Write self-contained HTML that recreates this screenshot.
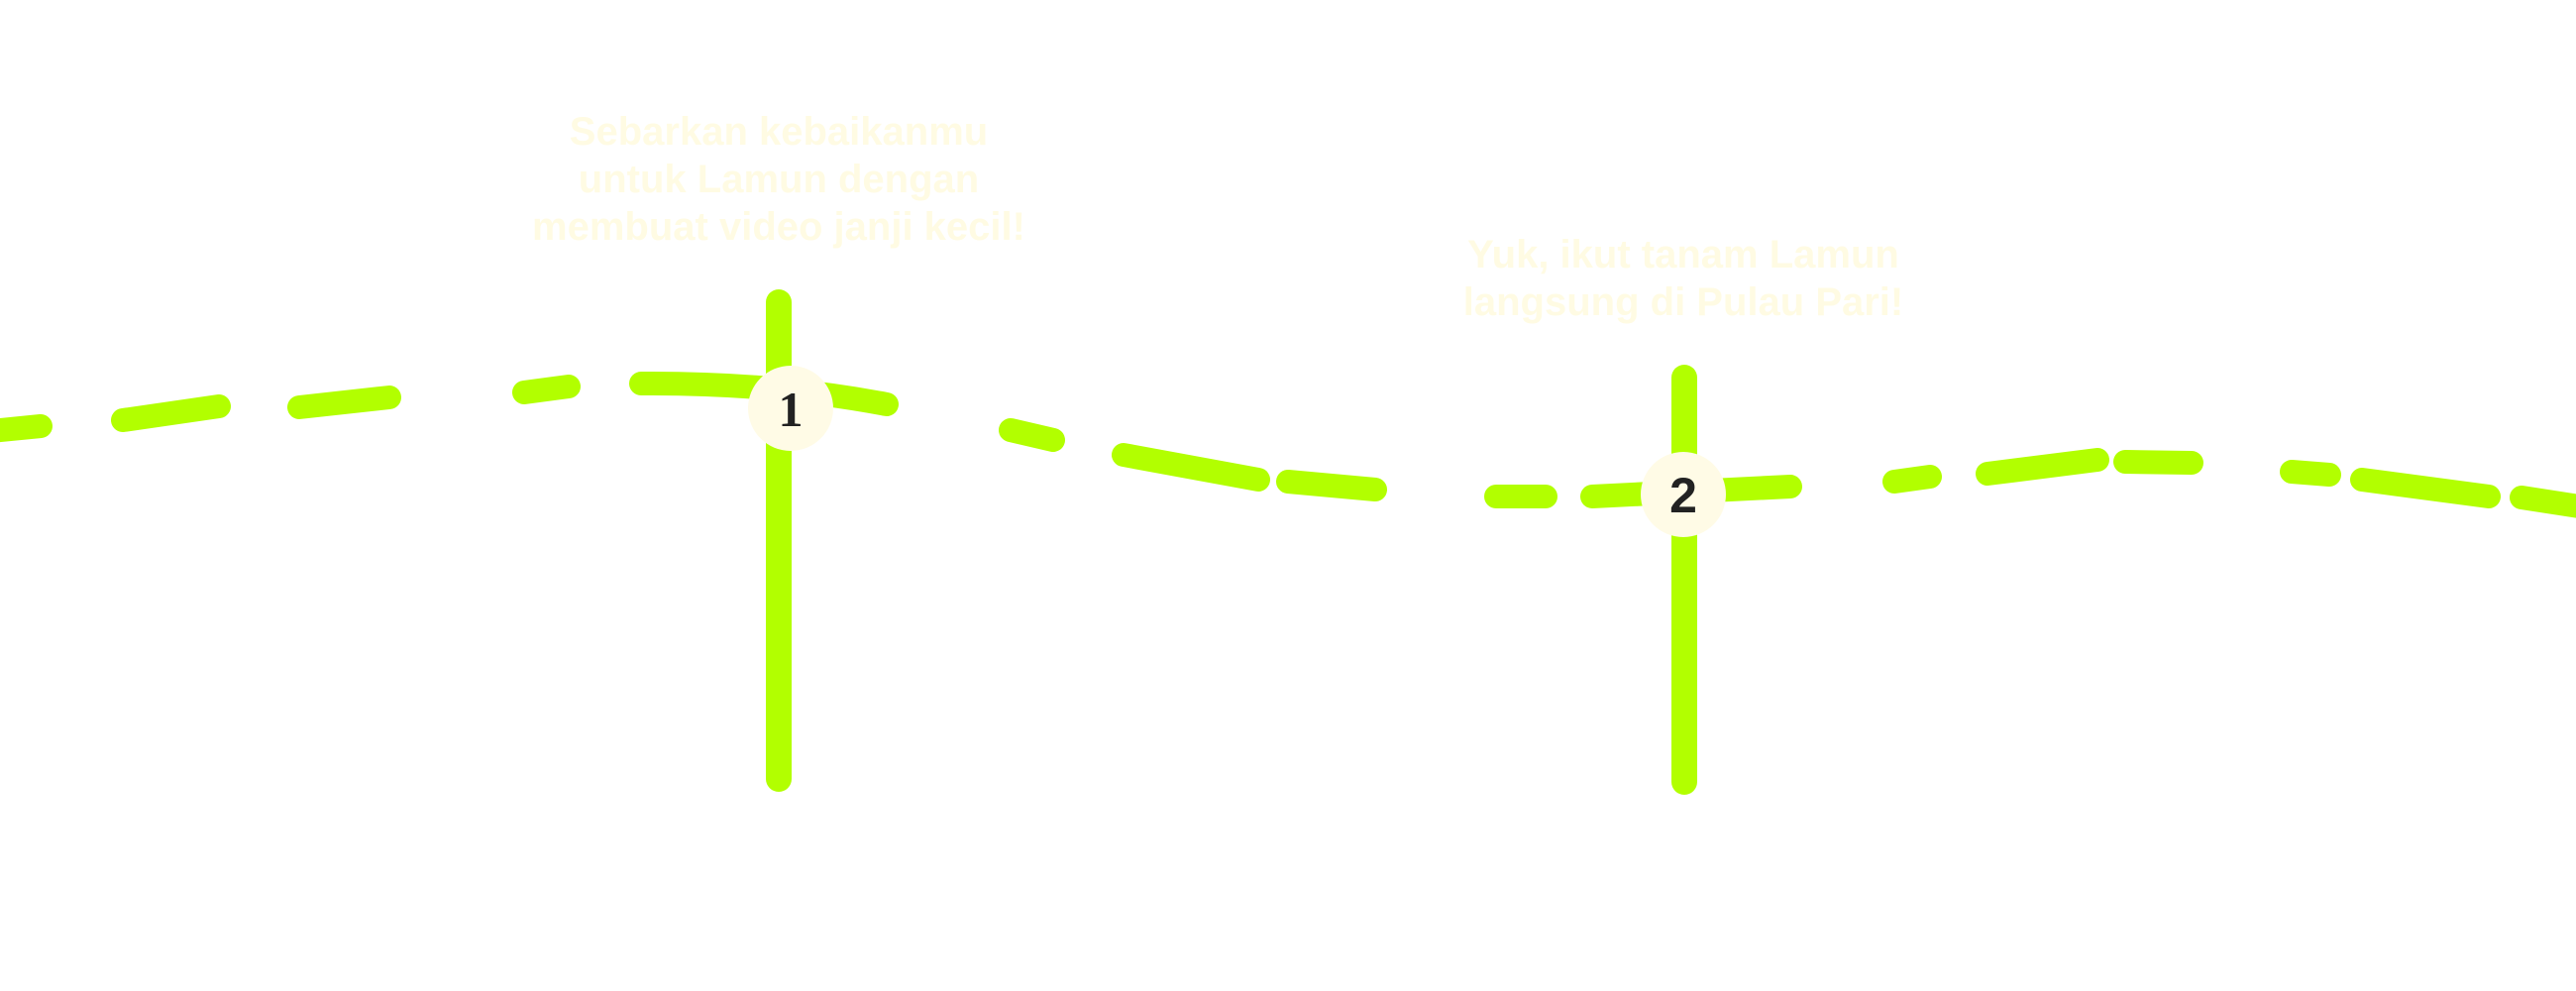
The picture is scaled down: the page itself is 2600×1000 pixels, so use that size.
<!DOCTYPE html>
<html><head><meta charset="utf-8"><style>
html,body{margin:0;padding:0;background:#fff;width:2600px;height:1000px;overflow:hidden}
svg{display:block}
.t{font-family:"Liberation Sans",sans-serif;font-weight:bold;font-size:40px;fill:#fffbe3;text-anchor:middle}
.d{stroke:#b2ff00;stroke-width:24;stroke-linecap:round;fill:none}
</style></head><body>
<svg width="2600" height="1000" viewBox="0 0 2600 1000">
<text class="t" x="786" y="146">Sebarkan kebaikanmu</text>
<text class="t" x="786" y="194">untuk Lamun dengan</text>
<text class="t" x="786" y="242">membuat video janji kecil!</text>
<text class="t" x="1699" y="270">Yuk, ikut tanam Lamun</text>
<text class="t" x="1699" y="318">langsung di Pulau Pari!</text>
<g class="d">
<line x1="786" y1="305" x2="786" y2="786" stroke-width="26"/>
<line x1="1700" y1="381" x2="1700" y2="789" stroke-width="26"/>
<line x1="-10" y1="435" x2="41" y2="430"/>
<line x1="124" y1="424" x2="221" y2="410"/>
<line x1="302" y1="411" x2="393" y2="401"/>
<line x1="529" y1="396" x2="574" y2="390"/>
<path d="M647 387 Q780 386 895 408"/>
<line x1="1020" y1="434" x2="1063" y2="444"/>
<line x1="1134" y1="459" x2="1270" y2="484"/>
<line x1="1300" y1="486" x2="1388" y2="494"/>
<line x1="1510" y1="501" x2="1560" y2="501"/>
<line x1="1607" y1="501" x2="1807" y2="491"/>
<line x1="1912" y1="486" x2="1948" y2="481"/>
<line x1="2006" y1="478" x2="2117" y2="464"/>
<line x1="2145" y1="466" x2="2212" y2="467"/>
<line x1="2313" y1="476" x2="2351" y2="479"/>
<line x1="2384" y1="484" x2="2512" y2="501"/>
<line x1="2545" y1="502" x2="2610" y2="512"/>
</g>
<circle cx="798" cy="412" r="43" fill="#fffbe6"/>
<circle cx="1699" cy="499" r="43" fill="#fffbe6"/>
<text x="798" y="430" font-family="Liberation Serif,serif" font-size="50" font-weight="bold" fill="#222" text-anchor="middle">1</text>
<text x="1699" y="517" font-family="Liberation Sans,sans-serif" font-size="50" font-weight="bold" fill="#222" text-anchor="middle">2</text>
</svg>
</body></html>
